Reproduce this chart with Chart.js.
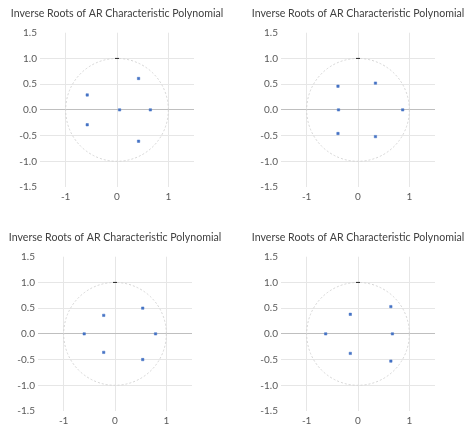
<!DOCTYPE html>
<html>
<head>
<meta charset="utf-8">
<script src="https://cdn.jsdelivr.net/npm/chart.js@4/dist/chart.umd.min.js"></script>
<style>
  html, body { margin: 0; padding: 0; background: #fff; overflow: hidden; width: 465px; height: 424px; }
  .panel { position: absolute; width: 234px; height: 212px; }
  #p1 { left: 0; top: 0; }
  #p2 { left: 241px; top: 0; }
  #p3 { left: -2px; top: 224px; }
  #p4 { left: 241px; top: 224px; }
</style>
</head>
<body>
<div class="panel" id="p1"><canvas id="c1" width="234" height="212"></canvas></div>
<div class="panel" id="p2"><canvas id="c2" width="234" height="212"></canvas></div>
<div class="panel" id="p3"><canvas id="c3" width="234" height="212"></canvas></div>
<div class="panel" id="p4"><canvas id="c4" width="234" height="212"></canvas></div>
<script>
const titleText = 'Inverse Roots of AR Characteristic Polynomial';
const xTicks = [-1, 0, 1];
const axisMin = -1.5;
const axisMax = 1.5;
const yStep = 0.5;
const unitRadius = 1;
const circleTop = [{ x: 0, y: 1 }];

// inverse roots, real and imaginary parts, one pair of arrays per panel
const roots1Re = [0.42, -0.58, 0.05, 0.65, -0.58, 0.42];
const roots1Im = [0.61, 0.29, 0.0, 0.0, -0.29, -0.61];
const roots2Re = [-0.39, 0.34, -0.38, 0.87, -0.39, 0.34];
const roots2Im = [0.46, 0.52, 0.0, 0.0, -0.46, -0.52];
const roots3Re = [0.54, -0.22, -0.60, 0.79, -0.22, 0.54];
const roots3Im = [0.50, 0.36, 0.0, 0.0, -0.36, -0.50];
const roots4Re = [0.64, -0.15, -0.63, 0.67, -0.15, 0.64];
const roots4Im = [0.53, 0.38, 0.0, 0.0, -0.38, -0.53];

const fontFamily = 'Lato, "Liberation Sans", sans-serif';

const unitCircle = {
  id: 'unitCircle',
  beforeDatasetsDraw(chart) {
    const { ctx, scales: { x, y } } = chart;
    const cx = x.getPixelForValue(0);
    const cy = y.getPixelForValue(0);
    const rx = x.getPixelForValue(unitRadius) - cx;
    const ry = cy - y.getPixelForValue(unitRadius);
    ctx.save();
    ctx.strokeStyle = '#d4d4d4';
    ctx.lineWidth = 1;
    ctx.setLineDash([2, 2]);
    ctx.beginPath();
    ctx.ellipse(cx, cy, rx, ry, 0, 0, Math.PI * 2);
    ctx.stroke();
    ctx.restore();
  }
};

function makeChart(id, re, im) {
  const pts = re.map((v, i) => ({ x: v, y: im[i] }));
  return new Chart(document.getElementById(id).getContext('2d'), {
    type: 'scatter',
    data: {
      datasets: [{
        label: 'roots',
        data: pts,
        pointStyle: 'rect',
        pointRadius: 1.7,
        backgroundColor: '#4472c4',
        borderColor: '#4472c4',
        borderWidth: 0.5
      }, {
        label: 'circle',
        data: circleTop,
        pointStyle: 'line',
        pointRadius: 2,
        borderColor: '#262626',
        borderWidth: 1
      }]
    },
    options: {
      responsive: false,
      animation: false,
      layout: { padding: { left: 0, right: 0, top: 0, bottom: 5 } },
      plugins: {
        legend: { display: false },
        tooltip: { enabled: false },
        title: {
          display: true,
          text: titleText,
          color: '#404040',
          font: { family: fontFamily, size: 10.6, weight: 'normal' },
          padding: { top: 7, bottom: 13 }
        }
      },
      scales: {
        x: {
          type: 'linear',
          min: axisMin,
          max: axisMax,
          afterBuildTicks: s => { s.ticks = xTicks.map(v => ({ value: v })); },
          afterFit: s => { s.height = 20; },
          border: { display: false },
          grid: { color: '#e6e6e6', drawTicks: false },
          ticks: {
            color: '#595959',
            padding: 4,
            font: { family: fontFamily, size: 10 },
            maxRotation: 0
          }
        },
        y: {
          min: axisMin,
          max: axisMax,
          afterFit: s => { s.width = 40; },
          border: { display: false },
          grid: {
            drawTicks: false,
            color: c => {
              const v = c.tick ? c.tick.value : null;
              if (v === 0) return '#bfbfbf';
              if (Math.abs(v) === 1.5) return 'rgba(0,0,0,0)';
              return '#e6e6e6';
            }
          },
          ticks: {
            stepSize: yStep,
            color: '#595959',
            padding: 3,
            font: { family: fontFamily, size: 10 },
            callback: v => v.toFixed(1)
          }
        },
        yRight: {
          position: 'right',
          min: axisMin,
          max: axisMax,
          afterFit: s => { s.width = 40; },
          border: { display: false },
          grid: { display: false },
          ticks: { display: false }
        }
      }
    },
    plugins: [unitCircle]
  });
}

makeChart('c1', roots1Re, roots1Im);
makeChart('c2', roots2Re, roots2Im);
makeChart('c3', roots3Re, roots3Im);
makeChart('c4', roots4Re, roots4Im);
</script>
</body>
</html>
